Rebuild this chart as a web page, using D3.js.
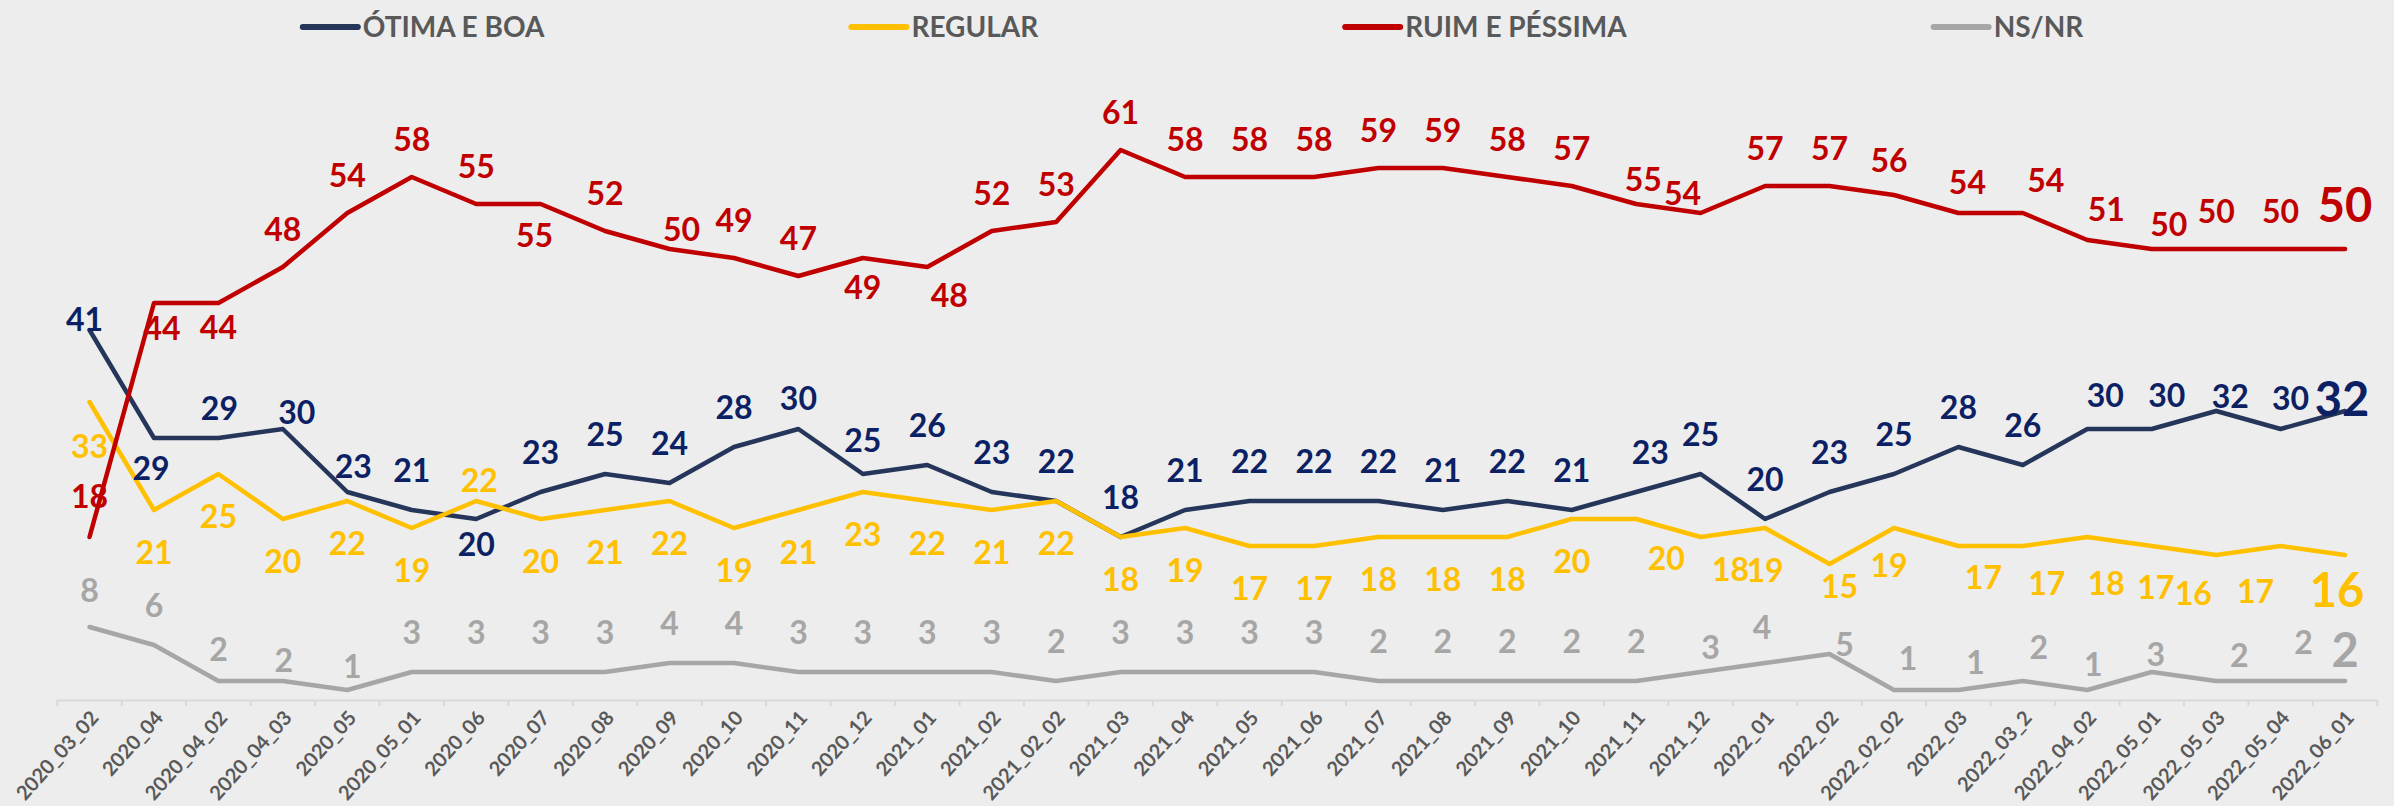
<!DOCTYPE html>
<html>
<head>
<meta charset="utf-8">
<script src="https://cdn.jsdelivr.net/npm/d3@7"></script>
<style>
  html, body { margin: 0; padding: 0; background: #ededed; }
  svg { display: block; font-family: Lato, "Open Sans", sans-serif; }
</style>
</head>
<body>
<svg id="vis"></svg>
<script>
const WIDTH = 2394;
const HEIGHT = 806;

// categorias (rodadas da pesquisa)
const categories = [
  "2020_03_02", "2020_04", "2020_04_02", "2020_04_03", "2020_05", "2020_05_01",
  "2020_06", "2020_07", "2020_08", "2020_09", "2020_10", "2020_11", "2020_12",
  "2021_01", "2021_02", "2021_02_02", "2021_03", "2021_04", "2021_05", "2021_06",
  "2021_07", "2021_08", "2021_09", "2021_10", "2021_11", "2021_12", "2022_01",
  "2022_02", "2022_02_02", "2022_03", "2022_03_2", "2022_04_02", "2022_05_01",
  "2022_05_03", "2022_05_04", "2022_06_01"
];

// series
const otimaBoa = [41, 29, 29, 30, 23, 21, 20, 23, 25, 24, 28, 30, 25, 26, 23, 22, 18, 21,
  22, 22, 22, 21, 22, 21, 23, 25, 20, 23, 25, 28, 26, 30, 30, 32, 30, 32];
const regular = [33, 21, 25, 20, 22, 19, 22, 20, 21, 22, 19, 21, 23, 22, 21, 22, 18, 19,
  17, 17, 18, 18, 18, 20, 20, 18, 19, 15, 19, 17, 17, 18, 17, 16, 17, 16];
const ruimPessima = [18, 44, 44, 48, 54, 58, 55, 55, 52, 50, 49, 47, 49, 48, 52, 53, 61, 58,
  58, 58, 59, 59, 58, 57, 55, 54, 57, 57, 56, 54, 54, 51, 50, 50, 50, 50];
const nsNr = [8, 6, 2, 2, 1, 3, 3, 3, 3, 4, 4, 3, 3, 3, 3, 2, 3, 3, 3, 3, 2, 2, 2, 2, 2, 3,
  4, 5, 1, 1, 2, 1, 3, 2, 2, 2];

const seriesNames = ["ÓTIMA E BOA", "REGULAR", "RUIM E PÉSSIMA", "NS/NR"];

// posição manual dos rótulos (dx, dy do centro do rótulo em relação ao ponto)
const nudgeOtima = {0: [-5, -11], 1: [-3, 30], 2: [1, -30], 3: [14, -17], 4: [6, -26], 6: [0, 25],
  11: [0, -31], 12: [0, -34], 24: [14, -40], 31: [18, -34], 32: [15, -34], 33: [14, -15],
  34: [10, -31], 35: [-3, -12]};
const nudgeRegular = {0: [0, 44], 6: [3, -21], 24: [30, 39], 25: [30, 32], 27: [10, 22],
  28: [-5, 37], 29: [25, 31], 30: [24, 37], 31: [19, 46], 32: [4, 41], 33: [-23, 38],
  34: [-25, 45], 35: [-8, 35]};
const nudgeRuim = {0: [0, -41], 1: [8, 25], 2: [0, 24], 7: [-6, 31], 9: [12, -20], 12: [0, 29],
  13: [22, 28], 24: [7, -25], 25: [-18, -20], 28: [-5, -35], 29: [9, -31], 30: [23, -33],
  31: [19, -31], 32: [17, -25], 35: [0, -44]};
const nudgeNs = {0: [0, -37], 2: [0, -32], 3: [1, -21], 4: [5, -24], 25: [10, -25], 26: [-3, -36],
  27: [15, -10], 28: [14, -32], 29: [17, -28], 30: [16, -34], 31: [6, -26], 32: [4, -18],
  33: [23, -26], 34: [23, -39], 35: [0, -31]};

const series = [
  {name: seriesNames[0], values: otimaBoa, line: "#26365a", text: "#0b2163", dy: -40, nudge: nudgeOtima},
  {name: seriesNames[1], values: regular, line: "#ffc000", text: "#ffc000", dy: 42, nudge: nudgeRegular},
  {name: seriesNames[2], values: ruimPessima, line: "#c00000", text: "#c00000", dy: -38, nudge: nudgeRuim},
  {name: seriesNames[3], values: nsNr, line: "#a6a6a6", text: "#a6a6a6", dy: -40, nudge: nudgeNs}
];

const AXIS_Y = 700;

const svg = d3.select("#vis")
    .attr("width", WIDTH)
    .attr("height", HEIGHT);

svg.append("rect")
    .attr("width", WIDTH)
    .attr("height", HEIGHT)
    .attr("fill", "#ededed");

// escalas
const x = d3.scaleBand().domain(categories).range([57.3, 2377.3]);
const cx = c => x(c) + x.bandwidth() / 2;
const y = d3.scaleLinear().domain([0, 70]).range([699, 69]);

// eixo X
const gx = svg.append("g")
    .attr("transform", `translate(0,${AXIS_Y})`)
    .call(d3.axisBottom(x).tickSize(0).tickSizeOuter(0).tickPadding(0));

gx.select(".domain").attr("stroke", "#d9d9d9").attr("stroke-width", 2);

gx.selectAll(".tick text")
    .attr("fill", "#595959")
    .attr("font-family", "Lato, sans-serif")
    .attr("font-weight", "bold")
    .attr("font-size", 20)
    .attr("text-anchor", "end")
    .attr("y", 0)
    .attr("dy", "0.35em")
    .attr("transform", "translate(5,14) rotate(-48)");

// marcas entre categorias
const edges = categories.map(c => x(c)).concat(x.range()[1]);
gx.selectAll(".edge")
    .data(edges)
    .join("line")
    .attr("class", "edge")
    .attr("x1", d => d).attr("x2", d => d)
    .attr("y1", 0).attr("y2", 6)
    .attr("stroke", "#d9d9d9")
    .attr("stroke-width", 2);

// linhas
const line = d3.line()
    .x((d, i) => cx(categories[i]))
    .y(d => y(d));

svg.append("g")
    .selectAll("path")
    .data(series)
    .join("path")
    .attr("d", s => line(s.values))
    .attr("fill", "none")
    .attr("stroke", s => s.line)
    .attr("stroke-width", 4.5)
    .attr("stroke-linejoin", "round")
    .attr("stroke-linecap", "round");

// rótulos de dados
const last = categories.length - 1;
series.forEach(s => {
    svg.append("g")
        .selectAll("text")
        .data(s.values)
        .join("text")
        .attr("x", (d, i) => cx(categories[i]) + (s.nudge[i] ? s.nudge[i][0] : 0))
        .attr("y", (d, i) => y(d) + (s.nudge[i] ? s.nudge[i][1] : s.dy))
        .attr("dy", "0.36em")
        .attr("text-anchor", "middle")
        .attr("font-weight", "bold")
        .attr("font-size", (d, i) => i === last ? 47 : 32)
        .attr("fill", s.text)
        .text(d => d);
});

// legenda
const legend = svg.append("g").attr("transform", "translate(0,27)");
const items = legend.selectAll("g")
    .data(series)
    .join("g");

items.append("line")
    .attr("x1", 0).attr("x2", 55)
    .attr("y1", 0).attr("y2", 0)
    .attr("stroke", s => s.line)
    .attr("stroke-width", 6)
    .attr("stroke-linecap", "round");

items.append("text")
    .attr("x", 60)
    .attr("dy", "0.36em")
    .attr("font-weight", "bold")
    .attr("font-size", 28)
    .attr("fill", "#595959")
    .text(s => s.name);

const widths = [];
items.each(function () {
    widths.push(60 + d3.select(this).select("text").node().getComputedTextLength());
});
const GAP = 307;
const total = d3.sum(widths) + GAP * (widths.length - 1);
let start = 1193 - total / 2;
items.attr("transform", (d, i) => {
    const t = `translate(${start},0)`;
    start += widths[i] + GAP;
    return t;
});
</script>
</body>
</html>
